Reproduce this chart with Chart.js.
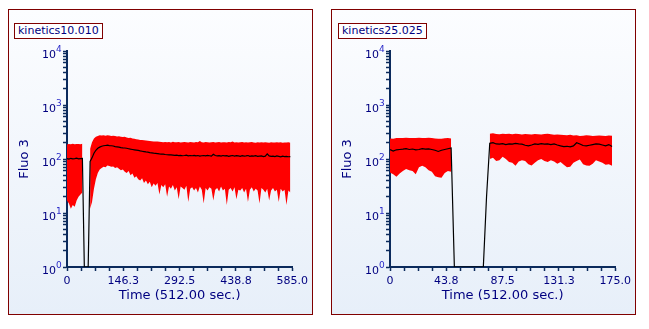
<!DOCTYPE html>
<html>
<head>
<meta charset="utf-8">
<script src="https://cdn.jsdelivr.net/npm/chart.js@4.4.1/dist/chart.umd.min.js"></script>
<style>
    body { margin: 0; background: #ffffff; font-family: "DejaVu Sans", sans-serif; }
    .panel {
        position: absolute;
        top: 9px;
        width: 303px;
        height: 304px;
        border: 1px solid #800000;
        background: linear-gradient(to bottom, #fcfdff, #e7eff9);
    }
    .panel canvas { position: absolute; left: 0; top: 0; }
    .tag {
        position: absolute;
        top: 13px;
        height: 14px;
        line-height: 14px;
        padding: 0 3px;
        font-size: 11px;
        color: #000080;
        background: #ffffff;
        border: 1px solid #800000;
        z-index: 2;
    }
</style>
</head>
<body>

<div class="panel" style="left:8px">
    <div class="tag" style="left:5px">kinetics10.010</div>
    <canvas id="leftChart" width="303" height="304"></canvas>
</div>

<div class="panel" style="left:331px">
    <div class="tag" style="left:6px">kinetics25.025</div>
    <canvas id="rightChart" width="303" height="304"></canvas>
</div>

<script>
// ===== DATA =====
const yMajorValues = [1, 10, 100, 1000, 10000];
const yTickBase = ["10", "10", "10", "10", "10"];
const yExponents = ["0", "1", "2", "3", "4"];

// kinetics10.010 : one sample every 5 sec, from 0 to 580
const leftStep = 5;
const leftMax = [
    186, 190, 188, 192, 187, 190, 189, 187, 191,
    null, null, null,
    155, 205, 240, 258, 268, 275, 272, 276, 270, 274,
    272, 268, 270, 266, 262, 265, 258, 255, 258, 250,
    245, 248, 240, 236, 232, 230, 226, 224, 222, 220,
    218, 215, 214, 212, 210, 210, 208, 206,
    205, 207, 204, 206, 203, 208, 205, 204, 207, 203,
    205, 206, 204, 202, 207, 205, 203, 206, 204, 215,
    205, 203, 206, 204, 202, 205, 207, 203, 204, 206,
    202, 205, 204, 203, 206, 204, 212, 203, 205, 202,
    204, 206, 203, 205, 202, 204, 206, 203, 201, 205,
    203, 204, 202, 205, 203, 201, 204, 202, 203, 205,
    202, 204, 201, 203, 202, 204, 201
];
const leftMean = [
    102, 100, 103, 101, 102, 104, 101, 102, 103,
    1, 1, 1,
    90, 105, 128, 145, 158, 166, 172, 176, 178, 180,
    177, 176, 174, 170, 168, 166, 163, 161, 160, 158,
    155, 152, 150, 148, 146, 144, 141, 139, 137, 135,
    134, 131, 130, 128, 127, 126, 124, 123,
    123, 121, 120, 119, 119, 118, 117, 118, 116, 117,
    115, 116, 118, 114, 116, 115, 117, 114, 116, 113,
    115, 116, 114, 117, 115, 113, 122, 116, 114, 115,
    113, 116, 114, 115, 112, 114, 116, 113, 115, 114,
    112, 115, 113, 114, 116, 112, 114, 113, 115, 112,
    113, 114, 111, 113, 124, 114, 112, 113, 111, 114,
    112, 110, 113, 111, 112, 110, 111
];
const leftMin = [
    17, 15, 12, 14, 13, 17, 20, 22, 24,
    null, null, null,
    12, 16, 28, 42, 55, 64, 68, 72, 70, 76,
    74, 72, 73, 68, 70, 66, 62, 64, 58, 55,
    60, 50, 54, 45, 48, 42, 40, 44, 36, 40,
    34, 38, 30, 35, 32, 36, 22, 33,
    30, 34, 20, 31, 28, 33, 26, 30, 18, 31,
    29, 27, 32, 16, 28, 30, 26, 29, 24, 31,
    27, 15, 29, 26, 30, 28, 17, 27, 29, 25,
    31, 26, 28, 14, 27, 29, 25, 30, 18, 27,
    26, 29, 24, 28, 16, 27, 30, 25, 28, 26,
    15, 29, 27, 24, 28, 17, 26, 29, 25, 27,
    16, 28, 25, 27, 14, 26, 24
];
const leftXMax = 585;
const leftXLabels = ["0", "146.3", "292.5", "438.8", "585.0"];

// kinetics25.025 : one sample every 2.5 sec, from 0 to 172.5
const rightStep = 2.5;
const rightMax = [
    240, 238, 244, 246, 245, 247, 245, 244, 246, 248,
    246, 245, 247, 246, 240, 236, 238, 242, 245, 240,
    null, null, null, null, null, null, null, null, null, null, null,
    295, 300, 290, 288, 292, 290, 295, 288, 292, 290,
    285, 290, 286, 284, 290, 288, 285, 290, 292, 288,
    280, 285, 282, 278, 275, 280, 272, 276, 268, 270,
    275, 272, 268, 270, 272, 270, 268, 272, 270
];
const rightMean = [
    150, 140, 148, 150, 152, 155, 150, 153, 148, 150,
    155, 152, 154, 150, 145, 138, 145, 150, 155, 160,
    1, 1, 1, 1, 1, 1, 1, 1, 1, 1, 20,
    195, 200, 190, 188, 192, 185, 190, 188, 195, 190,
    188, 180, 175, 182, 190, 186, 192, 188, 190, 185,
    190, 182, 175, 170, 172, 168, 175, 200, 190, 178,
    175, 180, 185, 190, 188, 182, 175, 185, 170
];
const rightMin = [
    56, 52, 47, 54, 60, 65, 62, 60, 52, 70,
    75, 70, 62, 58, 48, 46, 45, 55, 60, 58,
    null, null, null, null, null, null, null, null, null, null, null,
    100, 105, 92, 95, 110, 100, 88, 85, 75, 90,
    95, 92, 80, 76, 85, 95, 100, 92, 88, 95,
    90, 82, 88, 78, 70, 72, 85, 92, 98, 80,
    76, 75, 82, 95, 90, 85, 78, 80, 75
];
const rightXMax = 175;
const rightXLabels = ["0", "43.8", "87.5", "131.3", "175.0"];

// ===== STYLE =====
const axisColor = "#0b2a5c";
const textColor = "#000080";
const expColor = "#2a2ac8";
const bandColor = "#ff0000";

function toPoints(values, step) {
    return values.map((v, i) => ({ x: i * step, y: v }));
}

// superscript part of the 10^n labels, placed at the y scale's own tick pixels
const exponentPlugin = {
    id: "exponents",
    afterDraw(chart) {
        const s = chart.scales.y;
        const ctx = chart.ctx;
        ctx.save();
        ctx.font = "9px 'DejaVu Sans'";
        ctx.fillStyle = expColor;
        ctx.textAlign = "left";
        ctx.textBaseline = "alphabetic";
        yExponents.forEach((e, k) => {
            ctx.fillText(e, s.right - 11, s.getPixelForValue(yMajorValues[k]) + 0.5);
        });
        ctx.restore();
    }
};

function makeChart(canvasId, maxVals, meanVals, minVals, step, xMax, xLabels) {

    const ctx = document.getElementById(canvasId).getContext("2d");

    return new Chart(ctx, {
        type: "line",
        data: {
            datasets: [
                {
                    label: "Mean",
                    data: toPoints(meanVals, step),
                    borderColor: "#000000",
                    borderWidth: 1.2,
                    pointRadius: 0,
                    fill: false,
                    tension: 0
                },
                {
                    label: "Max",
                    data: toPoints(maxVals, step),
                    borderWidth: 0,
                    borderColor: bandColor,
                    backgroundColor: bandColor,
                    pointRadius: 0,
                    fill: "+1",
                    spanGaps: false
                },
                {
                    label: "Min",
                    data: toPoints(minVals, step),
                    borderWidth: 0,
                    borderColor: bandColor,
                    pointRadius: 0,
                    fill: false,
                    spanGaps: false
                }
            ]
        },
        options: {
            responsive: false,
            animation: false,
            devicePixelRatio: 1,
            layout: {
                padding: { left: 0, right: 18, top: 41, bottom: 0 }
            },
            plugins: {
                legend: { display: false },
                tooltip: { enabled: false }
            },
            scales: {
                x: {
                    type: "linear",
                    min: 0,
                    max: xMax,
                    afterBuildTicks: s => {
                        const ticks = [];
                        for (let i = 0; i <= 16; i++) ticks.push({ value: xMax * i / 16 });
                        s.ticks = ticks;
                    },
                    afterFit: s => { s.height = 47; },
                    border: { color: axisColor, width: 2 },
                    grid: {
                        drawOnChartArea: false,
                        drawTicks: true,
                        tickLength: 4,
                        tickColor: axisColor,
                        tickWidth: 1.5
                    },
                    ticks: {
                        autoSkip: false,
                        maxRotation: 0,
                        padding: 4,
                        color: textColor,
                        font: { family: "DejaVu Sans", size: 11 },
                        callback: (v, i) => (i % 4 === 0 ? xLabels[i / 4] : "")
                    },
                    title: {
                        display: true,
                        text: "Time (512.00 sec.)",
                        color: textColor,
                        font: { family: "DejaVu Sans", size: 13 },
                        padding: { top: 0, bottom: 11 }
                    }
                },
                y: {
                    type: "logarithmic",
                    min: 1,
                    max: 10000,
                    afterBuildTicks: s => {
                        const ticks = [];
                        for (let d = 0; d < yMajorValues.length - 1; d++) {
                            for (let m = 1; m <= 9; m++) ticks.push({ value: yMajorValues[d] * m });
                        }
                        ticks.push({ value: yMajorValues[yMajorValues.length - 1] });
                        s.ticks = ticks;
                    },
                    afterFit: s => { s.width = 58; },
                    border: { color: axisColor, width: 2 },
                    grid: {
                        drawOnChartArea: false,
                        drawTicks: true,
                        tickLength: 4,
                        tickColor: axisColor,
                        tickWidth: 1.5
                    },
                    ticks: {
                        autoSkip: false,
                        padding: 7,
                        labelOffset: 4,
                        color: textColor,
                        font: { family: "DejaVu Sans", size: 11 },
                        callback: v => {
                            const k = yMajorValues.indexOf(v);
                            return k >= 0 ? yTickBase[k] : "";
                        }
                    },
                    title: {
                        display: true,
                        text: "Fluo 3",
                        color: textColor,
                        font: { family: "DejaVu Sans", size: 13 },
                        padding: { top: 8, bottom: 0 }
                    }
                }
            }
        },
        plugins: [exponentPlugin]
    });
}

makeChart("leftChart", leftMax, leftMean, leftMin, leftStep, leftXMax, leftXLabels);
makeChart("rightChart", rightMax, rightMean, rightMin, rightStep, rightXMax, rightXLabels);
</script>
</body>
</html>
